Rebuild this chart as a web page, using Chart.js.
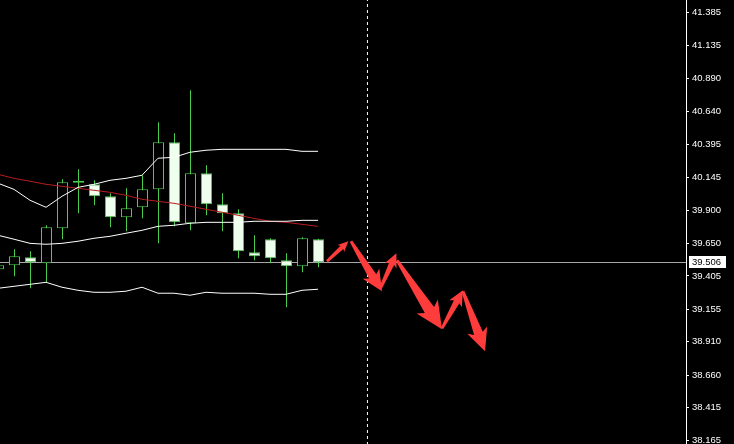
<!DOCTYPE html>
<html>
<head>
<meta charset="utf-8">
<script src="https://cdn.jsdelivr.net/npm/chart.js@4.4.1/dist/chart.umd.min.js"></script>
<style>
  html, body { margin: 0; padding: 0; background: #000; }
  #wrap { width: 734px; height: 444px; }
  canvas { display: block; }
</style>
</head>
<body>
<div id="wrap"><canvas id="c" width="734" height="444"></canvas></div>
<script>
// ---- data ----
const barIndex = [-1, 0, 1, 2, 3, 4, 5, 6, 7, 8, 9, 10, 11, 12, 13, 14, 15, 16, 17, 18, 19];
const opens  = [39.455, 39.485, 39.545, 39.500, 39.763, 40.109, 40.094, 40.004, 39.846, 39.921, 40.056, 40.410, 39.801, 40.177, 39.944, 39.876, 39.583, 39.681, 39.523, 39.478, 39.681];
const highs  = [39.508, 39.605, 39.590, 39.786, 40.132, 40.207, 40.124, 40.026, 40.064, 40.162, 40.560, 40.478, 40.801, 40.237, 40.026, 39.906, 39.711, 39.688, 39.575, 39.696, 39.685];
const lows   = [39.432, 39.402, 39.312, 39.357, 39.681, 39.876, 39.936, 39.771, 39.741, 39.838, 39.650, 39.778, 39.748, 39.861, 39.741, 39.538, 39.523, 39.500, 39.169, 39.432, 39.470];
const closes = [39.485, 39.553, 39.508, 39.771, 40.109, 40.105, 40.004, 39.846, 39.914, 40.056, 40.410, 39.808, 40.177, 39.944, 39.876, 39.590, 39.553, 39.538, 39.478, 39.688, 39.506];

const upperBand  = [40.102, 40.056, 39.974, 39.921, 40.004, 40.071, 40.094, 40.124, 40.139, 40.162, 40.290, 40.297, 40.335, 40.350, 40.357, 40.357, 40.357, 40.357, 40.357, 40.342, 40.342];
const middleBand = [39.711, 39.681, 39.650, 39.643, 39.650, 39.666, 39.688, 39.703, 39.726, 39.748, 39.778, 39.786, 39.801, 39.808, 39.808, 39.808, 39.816, 39.816, 39.816, 39.823, 39.823];
const lowerBand  = [39.312, 39.327, 39.342, 39.357, 39.320, 39.297, 39.282, 39.282, 39.290, 39.320, 39.275, 39.275, 39.260, 39.282, 39.275, 39.275, 39.275, 39.267, 39.267, 39.297, 39.305];
const maLine     = [40.169, 40.139, 40.117, 40.094, 40.079, 40.064, 40.049, 40.034, 40.011, 39.981, 39.966, 39.951, 39.929, 39.906, 39.884, 39.861, 39.838, 39.816, 39.808, 39.793, 39.778];

const yTicks = [41.385, 41.135, 40.890, 40.640, 40.395, 40.145, 39.900, 39.650, 39.405, 39.155, 38.910, 38.660, 38.415, 38.165];
const currentPrice = 39.506;
const separatorIndex = 22.09;

// forecast arrows (bar index / price)
const arrowFromX = [19.56, 21.06, 22.90, 23.94, 26.75, 28.06];
const arrowFromY = [39.515, 39.665, 39.312, 39.523, 39.011, 39.290];
const arrowToX   = [20.90, 23.00, 23.90, 26.75, 28.06, 29.44];
const arrowToY   = [39.665, 39.289, 39.575, 39.004, 39.297, 38.838];

// ---- styling ----
const GREEN = '#4ccc4c';
const CANDLE_SHIFT = 0.03125; // half-pixel alignment
const Y_MAX = 41.4797, Y_MIN = 41.4797 - 444 / 133;
const X_MIN = -0.875, X_MAX = 42;

const wickData = barIndex.map((k, i) => ({ x: k + CANDLE_SHIFT, y: [lows[i], highs[i]] }));
const bodyData = barIndex.map((k, i) => ({ x: k + CANDLE_SHIFT, y: [opens[i], closes[i]] }));
const bodyFill = barIndex.map((k, i) => closes[i] < opens[i] ? '#eeffee' : '#000000');
const lineOf = arr => barIndex.map((k, i) => ({ x: k, y: arr[i] }));

const bgPlugin = {
  id: 'bg',
  beforeDraw(chart) {
    const ctx = chart.ctx;
    ctx.save();
    ctx.fillStyle = '#000';
    ctx.fillRect(0, 0, chart.width, chart.height);
    ctx.restore();
  }
};

const arrowPlugin = {
  id: 'arrows',
  afterDatasetsDraw(chart) {
    const xs = chart.scales.x, ys = chart.scales.y, ctx = chart.ctx;
    ctx.save();
    ctx.fillStyle = '#ff3c3c';
    for (let i = 0; i < arrowFromX.length; i++) {
      const x0 = xs.getPixelForValue(arrowFromX[i]), y0 = ys.getPixelForValue(arrowFromY[i]);
      const x1 = xs.getPixelForValue(arrowToX[i]),   y1 = ys.getPixelForValue(arrowToY[i]);
      const dx = x1 - x0, dy = y1 - y0, L = Math.hypot(dx, dy);
      const ux = dx / L, uy = dy / L, nx = -uy, ny = ux;
      const h = Math.min(L * 0.3, 23);
      const hw = h * 0.55, sw = h * 0.24, tw = 1.4;
      const bx = x1 - ux * h, by = y1 - uy * h;
      const back = h * 0.18;
      ctx.beginPath();
      ctx.moveTo(x0 + nx * tw, y0 + ny * tw);
      ctx.lineTo(bx + nx * sw, by + ny * sw);
      ctx.lineTo(bx - ux * back + nx * hw, by - uy * back + ny * hw);
      ctx.lineTo(x1, y1);
      ctx.lineTo(bx - ux * back - nx * hw, by - uy * back - ny * hw);
      ctx.lineTo(bx - nx * sw, by - ny * sw);
      ctx.lineTo(x0 - nx * tw, y0 - ny * tw);
      ctx.closePath();
      ctx.fill();
    }
    ctx.restore();
  }
};

const priceLabelPlugin = {
  id: 'priceLabel',
  afterDraw(chart) {
    const ys = chart.scales.y, ctx = chart.ctx;
    const y = Math.floor(ys.getPixelForValue(currentPrice));
    const left = chart.chartArea.right + 3;
    ctx.save();
    ctx.fillStyle = '#ffffff';
    ctx.fillRect(left, y - 6, 37, 12);
    ctx.fillStyle = '#000000';
    ctx.font = '9.5px "Liberation Sans", Arial, sans-serif';
    ctx.textBaseline = 'middle';
    ctx.textAlign = 'left';
    ctx.fillText(currentPrice.toFixed(3), left + 3, y + 0.5);
    ctx.restore();
  }
};

new Chart(document.getElementById('c'), {
  type: 'bar',
  data: {
    datasets: [
      { type: 'line', label: 'price', data: [{ x: X_MIN - 1, y: currentPrice }, { x: X_MAX + 1, y: currentPrice }],
        borderColor: '#a8a8a8', borderWidth: 1, pointRadius: 0, order: 5 },
      { type: 'line', label: 'sep', data: [{ x: separatorIndex, y: Y_MIN - 1 }, { x: separatorIndex, y: Y_MAX + 1 }],
        borderColor: '#ffffff', borderWidth: 1, borderDash: [3, 3], pointRadius: 0, order: 5 },
      { type: 'bar', label: 'wick', data: wickData, backgroundColor: GREEN, borderWidth: 0,
        barThickness: 1, grouped: false, inflateAmount: 0, order: 4 },
      { type: 'bar', label: 'body', data: bodyData, backgroundColor: bodyFill, borderColor: GREEN,
        borderWidth: 1, borderSkipped: false, barThickness: 11, minBarLength: 2, grouped: false, inflateAmount: 0, order: 3 },
      { type: 'line', label: 'ma', data: lineOf(maLine), borderColor: '#b81c1c', borderWidth: 1, pointRadius: 0, tension: 0, order: 2 },
      { type: 'line', label: 'upper', data: lineOf(upperBand), borderColor: '#ffffff', borderWidth: 1, pointRadius: 0, tension: 0, order: 1 },
      { type: 'line', label: 'middle', data: lineOf(middleBand), borderColor: '#ffffff', borderWidth: 1, pointRadius: 0, tension: 0, order: 1 },
      { type: 'line', label: 'lower', data: lineOf(lowerBand), borderColor: '#ffffff', borderWidth: 1, pointRadius: 0, tension: 0, order: 1 }
    ]
  },
  options: {
    responsive: false,
    animation: false,
    devicePixelRatio: 1,
    events: [],
    layout: { padding: 0 },
    plugins: { legend: { display: false }, tooltip: { enabled: false } },
    scales: {
      x: { type: 'linear', min: X_MIN, max: X_MAX, display: false, offset: false },
      y: {
        type: 'linear', position: 'right', min: Y_MIN, max: Y_MAX,
        border: { display: true, color: '#ffffff', width: 1 },
        grid: { display: true, drawOnChartArea: false, drawTicks: true, tickLength: 3, color: '#ffffff' },
        ticks: {
          color: '#ffffff', padding: 3, autoSkip: false,
          font: { family: '"Liberation Sans", Arial, sans-serif', size: 9.5 },
          callback: v => Number(v).toFixed(3)
        },
        afterBuildTicks: scale => { scale.ticks = yTicks.map(v => ({ value: v })); },
        afterFit: scale => { scale.width = 48; scale.paddingTop = 0; scale.paddingBottom = 0; }
      }
    }
  },
  plugins: [bgPlugin, arrowPlugin, priceLabelPlugin]
});
</script>
</body>
</html>
